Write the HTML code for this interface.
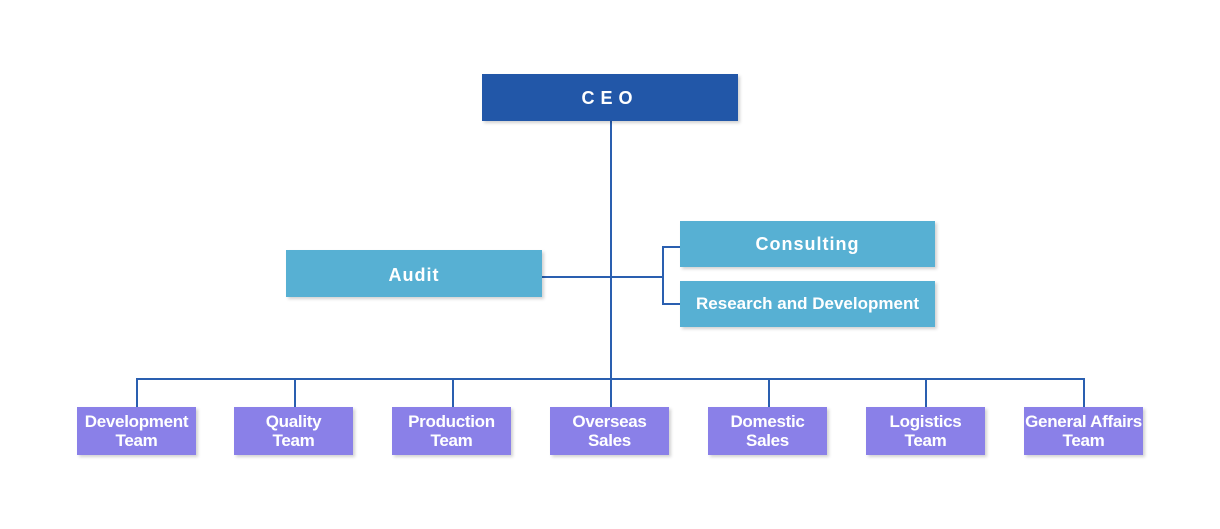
<!DOCTYPE html>
<html><head><meta charset="utf-8"><style>
body{margin:0;width:1220px;height:529px;background:#fff;position:relative;overflow:hidden;font-family:"Liberation Sans",sans-serif;}
.b{position:absolute;color:#fff;display:flex;align-items:center;justify-content:center;text-align:center;box-shadow:2px 2px 3px rgba(0,0,0,0.18);font-weight:bold;}
.t{background:#57b0d3;font-size:18px;}
.p{background:#8a80e8;font-size:17px;line-height:19px;width:119px;height:48px;top:407px;letter-spacing:-0.3px;}
.l{position:absolute;background:#2a5fb0;}
</style></head><body>
<div class="l" style="left:610px;top:121px;width:1.5px;height:286px"></div>
<div class="l" style="left:542px;top:276px;width:120px;height:1.5px"></div>
<div class="l" style="left:662px;top:246px;width:1.5px;height:58px"></div>
<div class="l" style="left:662px;top:246px;width:18px;height:1.5px"></div>
<div class="l" style="left:662px;top:303px;width:18px;height:1.5px"></div>
<div class="l" style="left:136px;top:378px;width:948px;height:1.5px"></div>
<div class="l" style="left:136px;top:378px;width:1.5px;height:29px"></div>
<div class="l" style="left:294px;top:378px;width:1.5px;height:29px"></div>
<div class="l" style="left:452px;top:378px;width:1.5px;height:29px"></div>
<div class="l" style="left:768px;top:378px;width:1.5px;height:29px"></div>
<div class="l" style="left:925px;top:378px;width:1.5px;height:29px"></div>
<div class="l" style="left:1083px;top:378px;width:1.5px;height:29px"></div>
<div class="b" style="left:482px;top:74px;width:256px;height:47px;background:#2257a8;font-size:18px;letter-spacing:6px;padding-top:2px;box-sizing:border-box">CEO</div>
<div class="b t" style="left:286px;top:250px;width:256px;height:47px;letter-spacing:1px;padding-top:4px;box-sizing:border-box">Audit</div>
<div class="b t" style="left:680px;top:221px;width:255px;height:46px;letter-spacing:1px">Consulting</div>
<div class="b t" style="left:680px;top:281px;width:255px;height:46px;font-size:17px">Research and Development</div>
<div class="b p" style="left:77px">Development<br>Team</div>
<div class="b p" style="left:234px">Quality<br>Team</div>
<div class="b p" style="left:392px">Production<br>Team</div>
<div class="b p" style="left:550px">Overseas<br>Sales</div>
<div class="b p" style="left:708px">Domestic<br>Sales</div>
<div class="b p" style="left:866px">Logistics<br>Team</div>
<div class="b p" style="left:1024px">General Affairs<br>Team</div>
</body></html>
